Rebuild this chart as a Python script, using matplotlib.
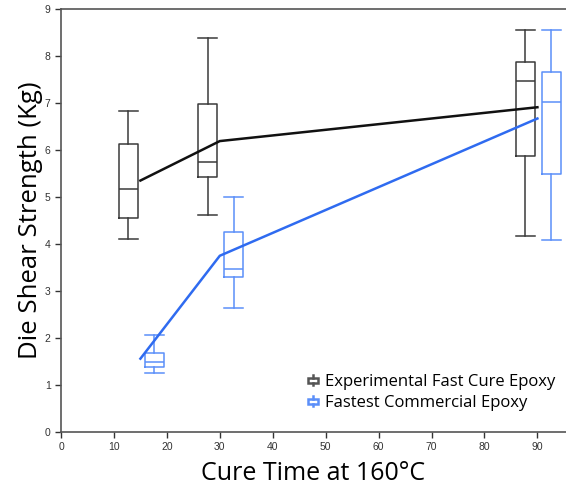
import matplotlib.pyplot as plt
from matplotlib.lines import Line2D
from matplotlib.legend_handler import HandlerBase
from matplotlib.patches import Rectangle

# data
cure_time = [15, 30, 90]
exp_mean = [5.35, 6.19, 6.91]
com_mean = [1.56, 3.75, 6.67]

# box stats: whisker low, q1, median, q3, whisker high
exp_whislo = [4.10, 4.62, 4.16]
exp_q1 = [4.55, 5.43, 5.88]
exp_med = [5.17, 5.75, 7.46]
exp_q3 = [6.12, 6.98, 7.87]
exp_whishi = [6.84, 8.38, 8.56]

com_whislo = [1.26, 2.64, 4.09]
com_q1 = [1.39, 3.29, 5.50]
com_med = [1.48, 3.46, 7.02]
com_q3 = [1.67, 4.25, 7.65]
com_whishi = [2.06, 4.99, 8.56]

labels = ["Experimental Fast Cure Epoxy", "Fastest Commercial Epoxy"]

black_box = "#3a3a3a"
blue_box = "#5b8ff9"
blue_line = "#2f6bf0"

plt.rcParams['font.family'] = ['Liberation Sans', 'DejaVu Sans']

fig = plt.figure(figsize=(5.66, 4.9), dpi=100)
ax = fig.add_axes([0.1078, 0.1184, 0.8922, 0.8632])


def stats(lo, q1, med, q3, hi):
    out = []
    for i in range(len(lo)):
        out.append(dict(whislo=lo[i], q1=q1[i], med=med[i], q3=q3[i], whishi=hi[i], fliers=[]))
    return out


def draw_boxes(st, pos, col):
    ax.bxp(st, positions=pos, widths=3.6, showfliers=False, manage_ticks=False,
           boxprops=dict(color=col, lw=1.1),
           medianprops=dict(color=col, lw=1.1),
           whiskerprops=dict(color=col, lw=1.1),
           capprops=dict(color=col, lw=1.1),
           capwidths=3.6)


draw_boxes(stats(exp_whislo, exp_q1, exp_med, exp_q3, exp_whishi), [t - 2.3 for t in cure_time], black_box)
draw_boxes(stats(com_whislo, com_q1, com_med, com_q3, com_whishi), [t + 2.6 for t in cure_time], blue_box)

ax.plot(cure_time, exp_mean, color="#111111", lw=1.8)
ax.plot(cure_time, com_mean, color=blue_line, lw=1.8)

ax.set_xlim(0, 95.4)
ax.set_ylim(0, 9)
ax.set_xticks(range(0, 100, 10))
ax.set_yticks(range(0, 10))
ax.tick_params(labelsize=7.5, colors="#333333", length=4, width=1)
for s in ["left", "bottom", "top"]:
    ax.spines[s].set_color("#555555")
    ax.spines[s].set_linewidth(1.2)
ax.spines["right"].set_visible(False)

ax.set_xlabel("Cure Time at 160°C", fontsize=18, family=['Open Sans', 'DejaVu Sans'], labelpad=6)
ax.set_ylabel("Die Shear Strength (Kg)", fontsize=18.5, family=['Open Sans', 'DejaVu Sans'], labelpad=1)


class BoxIcon(HandlerBase):
    def create_artists(self, legend, orig, xd, yd, w, h, fontsize, trans):
        c = orig.get_color()
        r = Rectangle((xd + w * 0.1, yd + h * 0.22), w * 0.8, h * 0.5, fill=False, ec=c, lw=1.8, transform=trans)
        l1 = Line2D([xd + w * 0.5, xd + w * 0.5], [yd + h * 0.05, yd + h * 0.22], color=c, lw=1.8, transform=trans)
        l2 = Line2D([xd + w * 0.5, xd + w * 0.5], [yd + h * 0.72, yd + h * 0.9], color=c, lw=1.8, transform=trans)
        return [r, l1, l2]


handles = [Line2D([], [], color="#555555"), Line2D([], [], color=blue_box)]
ax.legend(handles, labels, handler_map={Line2D: BoxIcon()}, loc="lower left",
          bbox_to_anchor=(0.47, 0.03), frameon=False, handlelength=0.75,
          handletextpad=0.35, labelspacing=0.3, borderpad=0,
          prop=dict(family=['Open Sans', 'DejaVu Sans'], size=12))

fig.savefig("out.png", dpi=100)
